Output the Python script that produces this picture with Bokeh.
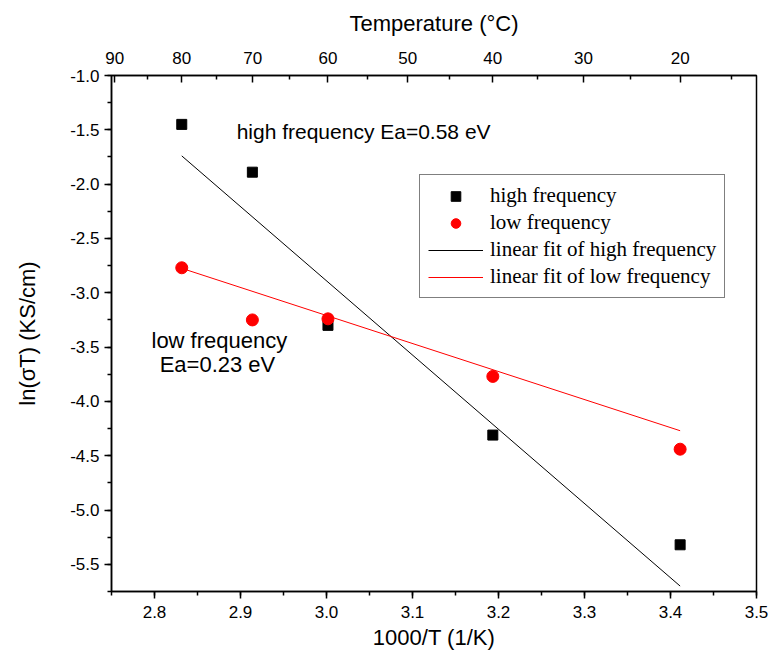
from bokeh.plotting import figure
from bokeh.models import (LinearAxis, FixedTicker, SingleIntervalTicker, PrintfTickFormatter,
                          CustomJSTickFormatter, Label, Legend, LegendItem, Range1d)
from bokeh.embed import file_html
from bokeh.resources import INLINE

# ---- data ----
temp_c = [80, 70, 60, 40, 20]
inv_t = [2.8317, 2.9138, 3.0017, 3.1934, 3.4112]          # 1000/T (1/K)
high_freq = [-1.45, -1.89, -3.30, -4.31, -5.32]            # ln(sigma T)
low_freq = [-2.77, -3.25, -3.24, -3.77, -4.44]
fit_x = [2.8317, 3.4112]
fit_high = [-1.74, -5.70]
fit_low = [-2.775, -4.27]
top_tick_temps = [90, 80, 70, 60, 50, 40, 30, 20]
top_minor_temps = [85, 75, 65, 55, 45, 35, 25, 15]

SANS = "Liberation Sans"
SERIF = "Liberation Serif"

p = figure(frame_width=645, frame_height=516,
           x_range=Range1d(2.75, 3.5), y_range=Range1d(-5.75, -1.0),
           output_backend="svg", toolbar_location=None,
           min_border_left=111, min_border_top=75, min_border_right=14, min_border_bottom=61)
p.xgrid.visible = False
p.ygrid.visible = False
p.outline_line_color = "black"
p.outline_line_width = 1.5
p.outline_line_alpha = 1.0

def style_axis(ax, inward=False):
    ax.axis_line_width = 1.5
    ax.axis_line_color = "black"
    ax.major_tick_line_width = 1.5
    ax.minor_tick_line_width = 1.5
    ax.major_tick_line_color = "black"
    ax.minor_tick_line_color = "black"
    if inward:
        ax.major_tick_in, ax.major_tick_out = 7, 0
        ax.minor_tick_in, ax.minor_tick_out = 4, 0
    else:
        ax.major_tick_in, ax.major_tick_out = 0, 7
        ax.minor_tick_in, ax.minor_tick_out = 0, 4
    ax.major_label_text_font = SANS
    ax.major_label_text_font_size = "17px"
    ax.major_label_text_color = "black"
    ax.axis_label_text_font = SANS
    ax.axis_label_text_font_size = "22px"
    ax.axis_label_text_font_style = "normal"
    ax.axis_label_text_color = "black"

xa = p.xaxis[0]
xa.ticker = SingleIntervalTicker(interval=0.1, num_minor_ticks=2)
xa.formatter = PrintfTickFormatter(format="%.1f")
xa.axis_label = "1000/T (1/K)"
style_axis(xa)
xa.major_label_standoff = 7
xa.axis_label_standoff = 4

ya = p.yaxis[0]
ya.ticker = SingleIntervalTicker(interval=0.5, num_minor_ticks=2)
ya.formatter = PrintfTickFormatter(format="%.1f")
ya.axis_label = "ln(σT) (KS/cm)"
style_axis(ya)
ya.major_label_standoff = 5
ya.axis_label_standoff = 27

top_ticks = [1000.0 / (t + 273.15) for t in top_tick_temps]
top_minor = [1000.0 / (t + 273.15) for t in top_minor_temps]
top = LinearAxis(ticker=FixedTicker(ticks=top_ticks, minor_ticks=top_minor),
                 formatter=CustomJSTickFormatter(code="return (1000/tick - 273.15).toFixed(0);"),
                 axis_label="Temperature (°C)")
style_axis(top, inward=True)
top.major_label_standoff = 12
top.axis_label_standoff = 13
p.add_layout(top, "above")

# ---- glyphs ----
l_high = p.line(fit_x, fit_high, line_color="black", line_width=1)
l_low = p.line(fit_x, fit_low, line_color="red", line_width=1)
s_high = p.scatter(inv_t, high_freq, marker="square", size=10, fill_color="black", line_color="black")
s_low = p.scatter(inv_t, low_freq, marker="circle", size=12, fill_color="red", line_color="red")

legend = Legend(items=[
    LegendItem(label="high frequency", renderers=[s_high]),
    LegendItem(label="low frequency", renderers=[s_low]),
    LegendItem(label="linear fit of high frequency", renderers=[l_high]),
    LegendItem(label="linear fit of low frequency", renderers=[l_low]),
], location=(308, 293))
legend.label_text_font = SERIF
legend.label_text_font_size = "21px"
legend.label_text_color = "black"
legend.padding = 8
legend.spacing = 2
legend.label_height = 24
legend.glyph_height = 24
legend.glyph_width = 55
legend.label_standoff = 7
legend.margin = 0
legend.border_line_color = "black"
legend.border_line_width = 1
legend.background_fill_color = "white"
legend.background_fill_alpha = 1
p.add_layout(legend)

for txt, x, y, fs in [("high frequency Ea=0.58 eV", 2.8955, -1.52, "21px"),
                      ("low frequency", 2.7965, -3.435, "22px"),
                      ("Ea=0.23 eV", 2.806, -3.656, "22px")]:
    p.add_layout(Label(x=x, y=y, text=txt, text_font=SANS, text_font_size=fs,
                       text_baseline="middle", text_align="left", text_color="black"))

open("out.html", "w").write(file_html(p, INLINE))
